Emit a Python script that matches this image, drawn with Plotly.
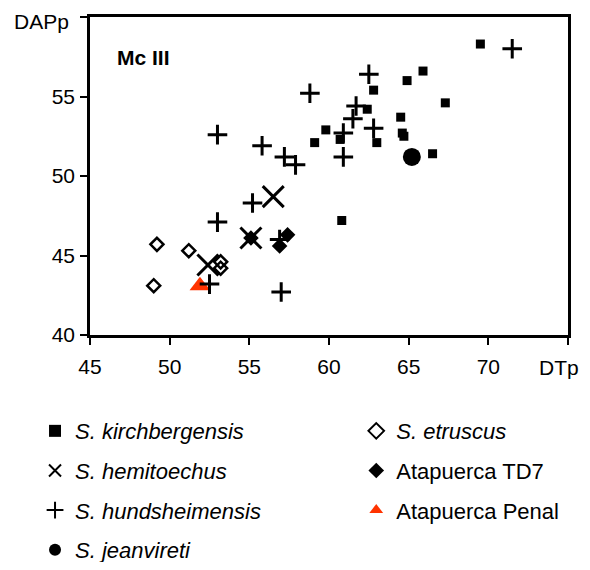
import plotly.graph_objects as go

# ---- data ----
kirch_x = [69.5, 65.9, 64.9, 62.8, 67.3, 62.4, 64.5, 59.8, 59.1, 60.7, 63.0, 64.6, 64.7, 66.5, 60.8]
kirch_y = [58.3, 56.6, 56.0, 55.4, 54.6, 54.2, 53.7, 52.9, 52.1, 52.3, 52.1, 52.7, 52.5, 51.4, 47.2]

hund_x = [71.5, 62.5, 58.8, 61.7, 61.5, 62.8, 60.9, 60.9, 53.0, 55.8, 57.2, 57.9, 55.2, 53.0, 56.9, 52.5, 57.0]
hund_y = [58.0, 56.4, 55.2, 54.4, 53.6, 53.0, 52.7, 51.2, 52.6, 51.9, 51.2, 50.7, 48.3, 47.1, 46.0, 43.2, 42.7]

hemi_x = [56.5, 55.1, 52.4]
hemi_y = [48.7, 46.1, 44.4]

jean_x = [65.2]
jean_y = [51.2]

etr_x = [49.2, 51.2, 53.2, 53.2, 49.0]
etr_y = [45.7, 45.3, 44.6, 44.2, 43.1]

td7_x = [55.1, 57.4, 56.9]
td7_y = [46.1, 46.3, 45.6]

penal_x = [51.9]
penal_y = [43.1]

x_ticks = [45, 50, 55, 60, 65, 70, 75]
x_ticktext = ["45", "50", "55", "60", "65", "70", ""]
x_title = "DTp"
y_ticks = [40, 45, 50, 55, 60]
y_ticktext = ["40", "45", "50", "55", ""]
y_title = "DAPp"

FONT = "Liberation Sans, Arial, sans-serif"

fig = go.Figure()

def add(x, y, name, symbol, size, color="black", lw=0, legend="legend", group=None, lcolor=None):
    fig.add_trace(go.Scatter(
        x=x, y=y, mode="markers", name=name, legend=legend, legendgroup=group or name,
        marker=dict(symbol=symbol, size=size, color=color,
                    line=dict(width=lw, color=lcolor or color)),
        hoverinfo="x+y+name",
    ))

add(kirch_x, kirch_y, "<i>S. kirchbergensis</i>", "square", 9)
add(etr_x, etr_y, "<i>S. etruscus</i>", "diamond-open", 10, lw=2.5, legend="legend2")
add(td7_x, td7_y, "Atapuerca TD7", "diamond", 12, legend="legend2")
add(hemi_x, hemi_y, "<i>S. hemitoechus</i>", "x-thin", 21, lw=3)
add(penal_x, penal_y, "Atapuerca Penal", "triangle-up", 18, color="#FF3300", legend="legend2")
add(hund_x, hund_y, "<i>S. hundsheimensis</i>", "cross-thin", 14, lw=3)
add(jean_x, jean_y, "<i>S. jeanvireti</i>", "circle", 18)

# legend order: col1 kirch, hemi, hund, jean ; col2 etr, td7, penal
ranks = {"<i>S. kirchbergensis</i>": 1, "<i>S. hemitoechus</i>": 2, "<i>S. hundsheimensis</i>": 3,
         "<i>S. jeanvireti</i>": 4, "<i>S. etruscus</i>": 1, "Atapuerca TD7": 2, "Atapuerca Penal": 3}
for tr in fig.data:
    tr.legendrank = ranks[tr.name]

fig.add_annotation(x=46.55, y=57.45, xref="x", yref="y", text="<b>Mc III</b>", showarrow=False,
                   xanchor="left", yanchor="middle", font=dict(family=FONT, size=21, color="black"))

# axis end labels (sit where the last tick labels would be)
fig.add_annotation(x=75, y=0, xref="x", yref="paper", text=x_title, showarrow=False,
                   xanchor="right", yanchor="middle", xshift=13, yshift=-32,
                   font=dict(family=FONT, size=21, color="black"))
fig.add_annotation(x=0, y=1, xref="paper", yref="paper", text=y_title, showarrow=False,
                   xanchor="right", yanchor="top", xshift=-19, yshift=9,
                   font=dict(family=FONT, size=21, color="black"))

axis_common = dict(showgrid=False, zeroline=False, showline=True, linecolor="black", linewidth=2.5,
                   mirror=True, ticks="outside", ticklen=7, tickwidth=2, tickcolor="black",
                   automargin=False, ticklabeloverflow="allow",
                   tickfont=dict(family=FONT, size=21, color="black"))

fig.update_xaxes(range=[45, 75], tickvals=x_ticks, ticktext=x_ticktext, ticklabelstandoff=4, **axis_common)
fig.update_yaxes(range=[40, 60], tickvals=y_ticks, ticktext=y_ticktext, ticklabelstandoff=1, **axis_common)

leg_common = dict(orientation="v", xanchor="left", yanchor="top", itemsizing="constant",
                  tracegroupgap=8, font=dict(family=FONT, size=22, color="black"),
                  bgcolor="rgba(0,0,0,0)", borderwidth=0, traceorder="grouped")

# the page body adds an 8px offset, so the figure is sized to fit inside the 590x570 window
fig.update_layout(
    width=574, height=554,
    margin=dict(l=82, r=14, t=9, b=227, autoexpand=False),
    paper_bgcolor="white", plot_bgcolor="white",
    showlegend=True,
    legend=dict(x=-0.115, y=-0.236, **leg_common),
    legend2=dict(x=0.557, y=-0.236, **leg_common),
)

fig.write_html("out.html")
